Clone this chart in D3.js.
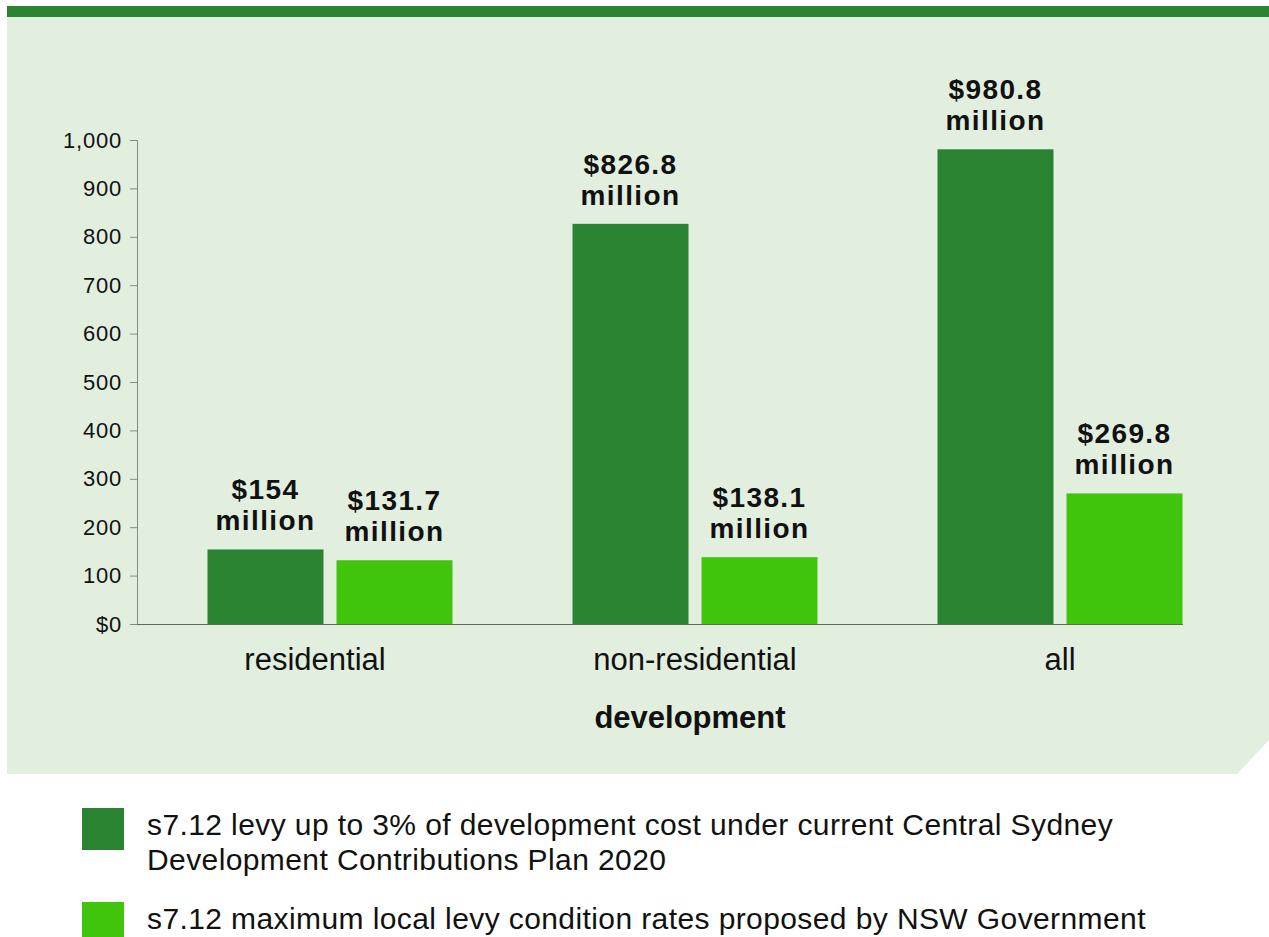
<!DOCTYPE html>
<html>
<head>
<meta charset="utf-8">
<script src="https://cdn.jsdelivr.net/npm/d3@7"></script>
<style>
  body { margin: 0; background: #fff; }
  svg { display: block; font-family: "Liberation Sans", Arial, Helvetica, sans-serif; }
</style>
</head>
<body>
<svg id="chart"></svg>
<script>
  // data ($ million)
  var categories = ["residential", "non-residential", "all"];
  var seriesNames = ["current", "proposed"];
  var currentPlan = [154, 826.8, 980.8];
  var proposedNsw = [131.7, 138.1, 269.8];
  var valueLabels = [["$154", "$131.7"], ["$826.8", "$138.1"], ["$980.8", "$269.8"]];
  var yTicks = [0, 100, 200, 300, 400, 500, 600, 700, 800, 900, 1000];
  var legendLines = [
    ["s7.12 levy up to 3% of development cost under current Central Sydney",
     "Development Contributions Plan 2020"],
    ["s7.12 maximum local levy condition rates proposed by NSW Government"]
  ];

  var width = 1269, height = 937;
  var dark = "#2a8330", light = "#40c40c";
  var colors = [dark, light];

  var svg = d3.select("#chart").attr("width", width).attr("height", height);

  // panel + top rule
  svg.append("path")
    .attr("d", "M7,17 H1269 V740 L1237,774 H7 Z")
    .attr("fill", "#e2efdf");
  svg.append("rect").attr("x", 7).attr("y", 6).attr("width", width - 7).attr("height", 11)
    .attr("fill", "#2a8330");

  var y = d3.scaleLinear().domain([0, 1000]).range([624, 140]);

  var x0 = d3.scaleBand().domain(categories).range([147.5, 1242.5])
    .paddingInner(0.3288).paddingOuter(0.1644);
  var x1 = d3.scaleBand().domain(seriesNames).range([0, x0.bandwidth()])
    .paddingInner(0.1008).paddingOuter(0);

  // y axis
  var yAxis = svg.append("g").attr("transform", "translate(137,0)")
    .call(d3.axisLeft(y).tickValues(yTicks).tickSize(7).tickPadding(8)
      .tickFormat(function(d) { return d === 0 ? "$0" : d3.format(",")(d); }));
  yAxis.select(".domain").attr("stroke", "#888").attr("d", "M-7,140.5H0.5V624");
  yAxis.selectAll(".tick line").attr("stroke", "#888");
  yAxis.selectAll(".tick text").attr("fill", "#111").style("font-size", "22px")
    .style("letter-spacing", "0.8px");

  var rows = categories.map(function(c, i) {
    return { cat: c, vals: [currentPlan[i], proposedNsw[i]], labels: valueLabels[i] };
  });

  var groups = svg.selectAll(".grp").data(rows).enter().append("g")
    .attr("class", "grp")
    .attr("transform", function(d) { return "translate(" + x0(d.cat) + ",0)"; });

  groups.selectAll("rect").data(function(d) {
      return d.vals.map(function(v, j) { return { s: seriesNames[j], v: v, j: j, label: d.labels[j] }; });
    }).enter().append("rect")
    .attr("x", function(d) { return x1(d.s); })
    .attr("y", function(d) { return y(d.v); })
    .attr("width", x1.bandwidth())
    .attr("height", function(d) { return y(0) - y(d.v); })
    .attr("fill", function(d) { return colors[d.j]; });

  var lbl = groups.selectAll(".vlabel").data(function(d) {
      return d.vals.map(function(v, j) { return { s: seriesNames[j], v: v, label: d.labels[j] }; });
    }).enter().append("text")
    .attr("class", "vlabel")
    .attr("text-anchor", "middle")
    .attr("x", function(d) { return x1(d.s) + x1.bandwidth() / 2; })
    .attr("y", function(d) { return y(d.v) - 50; })
    .style("font-size", "28px").style("font-weight", "bold").style("letter-spacing", "1.4px")
    .attr("fill", "#111");
  lbl.append("tspan").attr("x", function(d) { return x1(d.s) + x1.bandwidth() / 2; })
    .text(function(d) { return d.label; });
  lbl.append("tspan").attr("x", function(d) { return x1(d.s) + x1.bandwidth() / 2; })
    .attr("dy", 31).text("million");

  // x axis
  var xAxis = svg.append("g").attr("transform", "translate(0,624)")
    .call(d3.axisBottom(x0).tickSize(0).tickPadding(24));
  xAxis.select(".domain").attr("stroke", "#666").attr("d", "M137,0.5H1183");
  xAxis.selectAll(".tick text").attr("fill", "#111").style("font-size", "31px")
    .attr("dx", function(d) { return d === "residential" ? -15 : 0; });

  svg.append("text").attr("x", 690).attr("y", 728).attr("text-anchor", "middle")
    .style("font-size", "31px").style("font-weight", "bold").attr("fill", "#111")
    .text("development");

  // legend
  var legend = svg.selectAll(".leg").data(legendLines).enter().append("g")
    .attr("class", "leg")
    .attr("transform", function(d, i) { return "translate(82," + (808 + i * 94) + ")"; });
  legend.append("rect").attr("width", 42).attr("height", 42)
    .attr("fill", function(d, i) { return colors[i]; });
  var lt = legend.append("text").attr("x", 65).attr("y", 27)
    .style("font-size", "30px").style("letter-spacing", "0.4px").attr("fill", "#111");
  lt.selectAll("tspan").data(function(d) { return d; }).enter().append("tspan")
    .attr("x", 65).attr("dy", function(d, i) { return i === 0 ? 0 : 35; })
    .text(function(d) { return d; });
</script>
</body>
</html>
